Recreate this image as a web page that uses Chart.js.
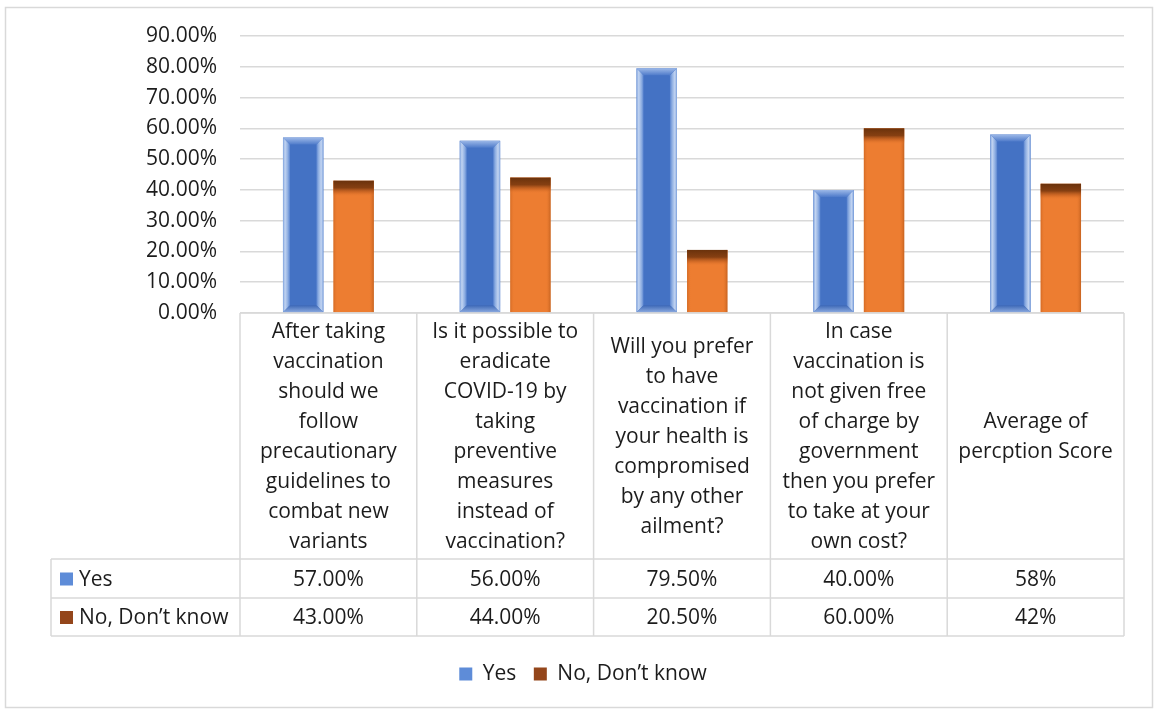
<!DOCTYPE html>
<html>
<head>
<meta charset="utf-8">
<script src="https://cdn.jsdelivr.net/npm/chart.js@4/dist/chart.umd.min.js"></script>
<style>
  html, body { margin: 0; padding: 0; background: #fff; }
  #wrap { position: relative; width: 1160px; height: 709px; }
</style>
</head>
<body>
<div id="wrap"><canvas id="chart" width="1160" height="709"></canvas></div>
<script>
// categories, written with the line breaks used in the table header cells
const categories = [
  ['After taking', 'vaccination', 'should we', 'follow', 'precautionary', 'guidelines to', 'combat new', 'variants'],
  ['Is it possible to', 'eradicate', 'COVID-19 by', 'taking', 'preventive', 'measures', 'instead of', 'vaccination?'],
  ['Will you prefer', 'to have', 'vaccination if', 'your health is', 'compromised', 'by any other', 'ailment?'],
  ['In case', 'vaccination is', 'not given free', 'of charge by', 'government', 'then you prefer', 'to take at your', 'own cost?'],
  ['Average of', 'percption Score'],
];
const seriesNames = ['Yes', 'No, Don\u2019t know'];
const yesValues = [57, 56, 79.5, 40, 58];
const noValues = [43, 44, 20.5, 60, 42];
// decimals shown in the data table, per category
const tableDecimals = [2, 2, 2, 2, 0];
const yTicks = [0, 10, 20, 30, 40, 50, 60, 70, 80, 90];

const FONT = "'Open Sans', sans-serif";
const TEXT = '#1c1c1c';
const GRID = '#d9d9d9';
const BLUE = '#4472c4';
const ORANGE = '#ed7d31';
const KEY_COLORS = ['#5e8cd8', '#94461b'];

Chart.defaults.font.family = FONT;
Chart.defaults.color = TEXT;

// outer frame of the chart object
const framePlugin = {
  id: 'frame',
  beforeDraw(chart) {
    const ctx = chart.ctx;
    ctx.save();
    ctx.fillStyle = '#fff';
    ctx.fillRect(0, 0, chart.width, chart.height);
    ctx.strokeStyle = GRID;
    ctx.lineWidth = 1.5;
    ctx.strokeRect(5.5, 7.5, 1147, 700);
    ctx.restore();
  },
};

// excel-like bevel shading on top of the plain bars
const bevelPlugin = {
  id: 'bevel',
  afterDatasetsDraw(chart) {
    const ctx = chart.ctx;
    chart.data.datasets.forEach((ds, di) => {
      const meta = chart.getDatasetMeta(di);
      meta.data.forEach((bar) => {
        const { x, y, base, width } = bar.getProps(['x', 'y', 'base', 'width'], true);
        const l = x - width / 2, r = x + width / 2, t = y, b = base;
        ctx.save();
        if (di === 0) {
          const e = 7;
          let g = ctx.createLinearGradient(l, 0, l + e, 0);
          g.addColorStop(0, '#7fa3de');
          g.addColorStop(0.3, '#c2d4f1');
          g.addColorStop(0.7, '#8eaee2');
          g.addColorStop(1, '#5a84cf');
          ctx.fillStyle = g;
          ctx.beginPath();
          ctx.moveTo(l, t); ctx.lineTo(l + e, t + e); ctx.lineTo(l + e, b - e); ctx.lineTo(l, b);
          ctx.closePath(); ctx.fill();

          g = ctx.createLinearGradient(r - e, 0, r, 0);
          g.addColorStop(0, '#5a84cf');
          g.addColorStop(0.3, '#8eaee2');
          g.addColorStop(0.7, '#c2d4f1');
          g.addColorStop(1, '#7fa3de');
          ctx.fillStyle = g;
          ctx.beginPath();
          ctx.moveTo(r, t); ctx.lineTo(r - e, t + e); ctx.lineTo(r - e, b - e); ctx.lineTo(r, b);
          ctx.closePath(); ctx.fill();

          g = ctx.createLinearGradient(0, t, 0, t + e);
          g.addColorStop(0, '#9db9e8');
          g.addColorStop(1, '#4f7bca');
          ctx.fillStyle = g;
          ctx.beginPath();
          ctx.moveTo(l, t); ctx.lineTo(r, t); ctx.lineTo(r - e, t + e); ctx.lineTo(l + e, t + e);
          ctx.closePath(); ctx.fill();

          g = ctx.createLinearGradient(0, b - e, 0, b);
          g.addColorStop(0, '#3d68b6');
          g.addColorStop(1, '#8aa9df');
          ctx.fillStyle = g;
          ctx.beginPath();
          ctx.moveTo(l, b); ctx.lineTo(r, b); ctx.lineTo(r - e, b - e); ctx.lineTo(l + e, b - e);
          ctx.closePath(); ctx.fill();
        } else {
          let g = ctx.createLinearGradient(l, 0, r, 0);
          g.addColorStop(0, 'rgba(190,90,25,0.55)');
          g.addColorStop(0.1, 'rgba(237,125,49,0)');
          g.addColorStop(0.88, 'rgba(237,125,49,0)');
          g.addColorStop(1, 'rgba(170,80,20,0.6)');
          ctx.fillStyle = g;
          ctx.fillRect(l, t, width, b - t);

          g = ctx.createLinearGradient(0, t, 0, t + 16);
          g.addColorStop(0, 'rgba(106,50,12,1)');
          g.addColorStop(0.45, 'rgba(128,60,16,0.95)');
          g.addColorStop(0.75, 'rgba(190,92,30,0.5)');
          g.addColorStop(1, 'rgba(237,125,49,0)');
          ctx.fillStyle = g;
          ctx.fillRect(l, t, width, 16);
        }
        ctx.restore();
      });
    });
  },
};

// data table under the plot, aligned with the category scale
const tablePlugin = {
  id: 'dataTable',
  afterDraw(chart) {
    const ctx = chart.ctx;
    const xs = chart.scales.x;
    const area = chart.chartArea;
    const n = categories.length;
    const colW = (area.right - area.left) / n;
    const tableLeft = 51;
    const top = area.bottom;
    const rowY = [top, 559, 598, 636];
    const lineH = 30;
    const dy = 1.5;

    ctx.save();
    ctx.strokeStyle = GRID;
    ctx.lineWidth = 1.5;
    ctx.beginPath();
    ctx.moveTo(area.left, rowY[0]); ctx.lineTo(area.right, rowY[0]);
    for (let i = 1; i < rowY.length; i++) {
      ctx.moveTo(tableLeft, rowY[i]); ctx.lineTo(area.right, rowY[i]);
    }
    ctx.moveTo(tableLeft, rowY[1]); ctx.lineTo(tableLeft, rowY[3]);
    for (let i = 0; i <= n; i++) {
      const cx = area.left + i * colW;
      ctx.moveTo(cx, rowY[0]); ctx.lineTo(cx, rowY[3]);
    }
    ctx.stroke();

    ctx.fillStyle = TEXT;
    ctx.font = '21px ' + FONT;
    ctx.textAlign = 'center';
    ctx.textBaseline = 'middle';
    categories.forEach((lines, i) => {
      const cx = xs.getPixelForValue(i);
      const mid = (rowY[0] + rowY[1]) / 2 + dy;
      const start = mid - (lines.length - 1) * lineH / 2;
      lines.forEach((txt, k) => ctx.fillText(txt, cx, start + k * lineH));
    });

    [yesValues, noValues].forEach((vals, r) => {
      const cy = (rowY[r + 1] + rowY[r + 2]) / 2;
      vals.forEach((v, i) => {
        ctx.textAlign = 'center';
        ctx.fillText(v.toFixed(tableDecimals[i]) + '%', xs.getPixelForValue(i), cy + dy);
      });
      ctx.fillStyle = KEY_COLORS[r];
      ctx.fillRect(60, cy - 6, 13, 13);
      ctx.fillStyle = TEXT;
      ctx.textAlign = 'left';
      ctx.fillText(seriesNames[r], 79, cy + dy);
    });
    ctx.restore();
  },
};

new Chart(document.getElementById('chart'), {
  type: 'bar',
  data: {
    labels: categories,
    datasets: [
      { label: seriesNames[0], data: yesValues, backgroundColor: BLUE, borderWidth: 0 },
      { label: seriesNames[1], data: noValues, backgroundColor: ORANGE, borderWidth: 0 },
    ],
  },
  options: {
    responsive: false,
    animation: false,
    events: [],
    categoryPercentage: 0.571,
    barPercentage: 0.8,
    layout: { padding: { top: 36, right: 36, bottom: 14.5, left: 42 } },
    plugins: {
      legend: {
        position: 'bottom',
        labels: {
          font: { size: 21, family: FONT },
          color: TEXT,
          boxWidth: 13,
          boxHeight: 13,
          padding: 17.5,
          generateLabels(chart) {
            return chart.data.datasets.map((ds, i) => ({
              text: ds.label,
              fillStyle: KEY_COLORS[i],
              strokeStyle: KEY_COLORS[i],
              lineWidth: 0,
              datasetIndex: i,
              fontColor: TEXT,
            }));
          },
        },
      },
      tooltip: { enabled: false },
    },
    scales: {
      x: {
        grid: { display: false },
        border: { display: false },
        ticks: { display: false },
        afterFit(scale) { scale.height = 333; },
      },
      y: {
        min: 0,
        max: 90,
        afterBuildTicks(scale) { scale.ticks = yTicks.map((v) => ({ value: v })); },
        afterFit(scale) { scale.width = 198; },
        grid: { color: GRID, lineWidth: 1.5, drawTicks: false },
        border: { display: false },
        ticks: {
          padding: 23,
          color: TEXT,
          font: { size: 21, family: FONT },
          callback: (v) => v.toFixed(2) + '%',
        },
      },
    },
  },
  plugins: [framePlugin, bevelPlugin, tablePlugin],
});
</script>
</body>
</html>
